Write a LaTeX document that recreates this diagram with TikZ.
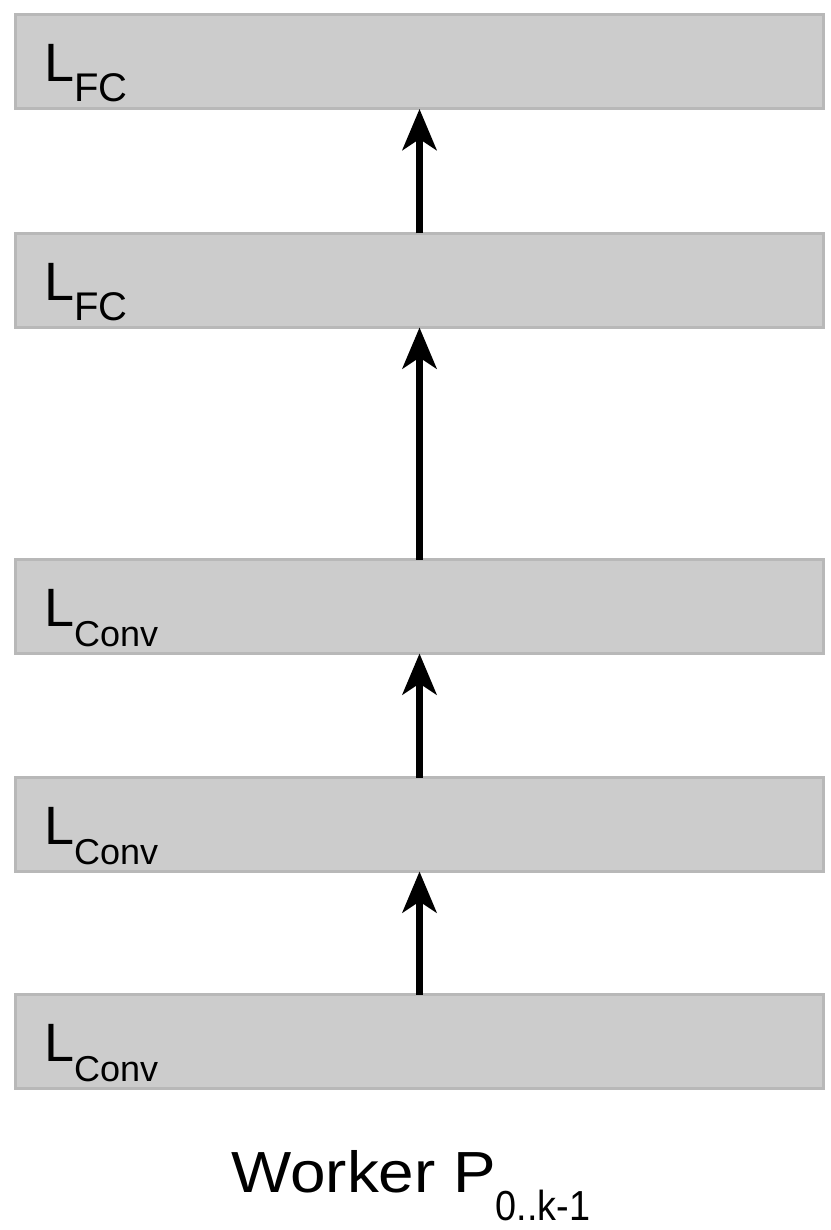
\documentclass[tikz,border=0pt]{standalone}
\usepackage{fontspec}
\setmainfont{Liberation Sans}
\usetikzlibrary{arrows.meta,calc}
\definecolor{boxfill}{HTML}{CCCCCC}
\definecolor{boxborder}{HTML}{B8B8B8}
\begin{document}
\begin{tikzpicture}[x=1pt,y=-1pt,
  layer/.style={rectangle, draw=boxborder, fill=boxfill, line width=3pt,
    minimum width=808pt, minimum height=94pt, inner sep=0pt, outer sep=0pt},
  flow/.style={line width=7pt, -{Stealth[length=41pt,width=34pt,inset=11pt]}},
  lbl/.style={anchor=base west, inner sep=0pt, outer sep=0pt,
    font=\fontsize{54}{60}\selectfont}
]
\useasboundingbox[fill=white] (0,0) rectangle (830,1230);
\newcommand{\subFC}{\raisebox{-20pt}{\fontsize{40}{44}\selectfont FC}}
\newcommand{\subConv}{\raisebox{-20pt}{\fontsize{36}{40}\selectfont Conv}}

\node[layer] (b1) at (419.5,62) {};
\node[layer] (b2) at (419.5,280.5) {};
\node[layer] (b3) at (419.5,606.5) {};
\node[layer] (b4) at (419.5,824.5) {};
\node[layer] (b5) at (419.5,1041.5) {};

\node[lbl] (t1) at ($(b1.west)+(28.5,20)$) {L\subFC};
\node[lbl] (t2) at ($(b2.west)+(28.5,20)$) {L\subFC};
\node[lbl] (t3) at ($(b3.west)+(28.5,20)$) {L\subConv};
\node[lbl] (t4) at ($(b4.west)+(28.5,20)$) {L\subConv};
\node[lbl] (t5) at ($(b5.west)+(28.5,20)$) {L\subConv};

\draw[flow] (b5.north) -- (b4.south);
\draw[flow] (b4.north) -- (b3.south);
\draw[flow] (b3.north) -- (b2.south);
\draw[flow] (b2.north) -- (b1.south);

\node[anchor=base west, inner sep=0pt, font=\fontsize{58}{64}\selectfont] (cap) at (231,1192)
  {\scalebox{1.1}[1]{Worker P}\raisebox{-28pt}{\fontsize{42}{46}\selectfont\scalebox{0.9}[1]{0..k-1}}};
\end{tikzpicture}
\end{document}
